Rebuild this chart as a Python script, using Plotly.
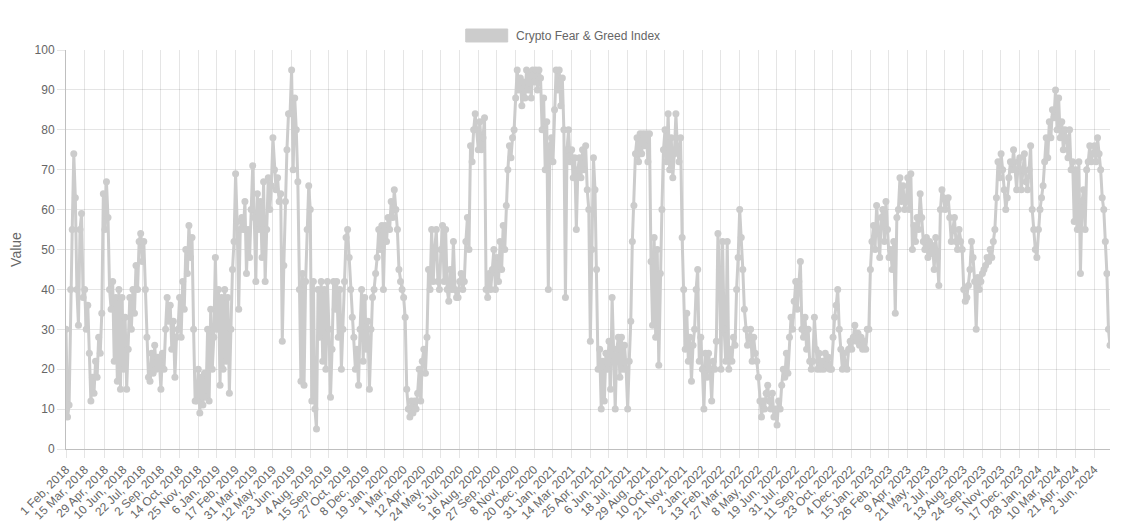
import pandas as pd
import plotly.graph_objects as go

# index readings every 3.5 days, one row per 6-week span between x labels
values = [
    30, 8, 11, 40, 55, 74, 63, 40, 31, 55, 59, 38,
    40, 30, 36, 24, 12, 18, 14, 22, 18, 28, 24, 34,
    64, 55, 67, 58, 40, 35, 42, 22, 38, 17, 40, 15,
    38, 20, 33, 15, 25, 38, 30, 40, 34, 46, 40, 52,
    54, 47, 52, 40, 28, 18, 17, 24, 19, 26, 20, 23,
    22, 15, 24, 20, 30, 38, 32, 36, 25, 32, 18, 28,
    30, 38, 28, 42, 35, 50, 44, 56, 48, 53, 30, 12,
    12, 20, 9, 18, 11, 19, 13, 30, 12, 35, 20, 28,
    48, 30, 40, 16, 38, 20, 40, 22, 38, 14, 30, 45,
    52, 69, 57, 35, 55, 58, 55, 62, 44, 55, 48, 60,
    71, 58, 42, 64, 55, 62, 48, 67, 42, 55, 68, 60,
    66, 78, 70, 65, 68, 62, 64, 27, 46, 62, 75, 84,
    84, 95, 70, 88, 80, 67, 40, 17, 44, 16, 42, 55,
    66, 60, 12, 42, 10, 5, 40, 28, 42, 22, 40, 20,
    42, 30, 13, 25, 42, 35, 42, 28, 40, 20, 30, 42,
    53, 55, 48, 40, 33, 28, 20, 25, 16, 30, 40, 22,
    38, 25, 32, 15, 30, 38, 40, 44, 48, 55, 50, 56,
    40, 56, 52, 58, 55, 62, 58, 65, 60, 55, 45, 42,
    40, 38, 33, 15, 10, 8, 12, 9, 12, 10, 14, 20,
    12, 22, 25, 19, 28, 45, 40, 55, 42, 50, 55, 42,
    40, 50, 56, 42, 55, 40, 37, 45, 40, 52, 40, 38,
    38, 42, 44, 40, 42, 52, 58, 50, 76, 72, 80, 84,
    80, 75, 82, 75, 78, 83, 40, 38, 44, 40, 45, 50,
    40, 48, 42, 52, 45, 56, 50, 61, 70, 76, 73, 78,
    80, 88, 95, 90, 93, 86, 92, 88, 95, 90, 94, 88,
    95, 92, 95, 90, 95, 93, 80, 88, 70, 82, 40, 76,
    78, 72, 85, 95, 90, 95, 86, 93, 80, 38, 75, 80,
    72, 75, 68, 73, 55, 70, 73, 68, 75, 70, 76, 65,
    60, 27, 50, 73, 65, 45, 20, 25, 10, 22, 12, 24,
    20, 27, 15, 38, 22, 10, 25, 28, 18, 28, 20, 26,
    20, 10, 22, 32, 52, 61, 74, 78, 72, 79, 74, 79,
    76, 79, 72, 79, 47, 31, 53, 28, 50, 21, 44, 60,
    75, 80, 72, 84, 70, 78, 68, 74, 84, 75, 72, 78,
    53, 40, 25, 34, 22, 28, 17, 26, 30, 40, 45, 22,
    28, 20, 10, 24, 18, 24, 20, 12, 22, 20, 27, 54,
    45, 20, 52, 30, 22, 52, 20, 25, 22, 28, 26, 40,
    48, 60, 53, 45, 35, 30, 26, 28, 30, 22, 28, 24,
    22, 18, 12, 8, 12, 10, 14, 16, 12, 10, 14, 8,
    10, 6, 12, 10, 16, 20, 18, 24, 19, 28, 33, 30,
    37, 42, 35, 42, 47, 30, 28, 33, 25, 30, 22, 20,
    22, 33, 25, 20, 24, 20, 22, 20, 24, 21, 23, 20,
    20, 28, 33, 36, 40, 30, 25, 20, 24, 21, 20, 25,
    27, 25, 28, 31, 27, 29, 26, 28, 25, 27, 25, 30,
    30, 45, 52, 56, 50, 61, 55, 48, 58, 60, 52, 62,
    55, 48, 50, 45, 52, 34, 58, 60, 68, 62, 66, 60,
    62, 68, 60, 69, 50, 56, 52, 58, 55, 64, 58, 52,
    50, 53, 48, 52, 49, 51, 45, 53, 48, 41, 60, 65,
    63, 60, 62, 63, 58, 52, 55, 58, 52, 50, 55, 52,
    50, 40, 37, 38, 41, 45, 52, 48, 42, 30, 43, 40,
    42, 44, 45, 46, 48, 47, 50, 48, 52, 55, 63, 72,
    68, 74, 70, 65, 60, 63, 68, 72, 70, 75, 70, 65,
    72, 73, 65, 70, 74, 67, 65, 70, 76, 60, 55, 50,
    48, 55, 60, 63, 66, 72, 78, 73, 82, 78, 85, 83,
    90, 80, 88, 78, 82, 75, 80, 78, 73, 80, 70, 72,
    57, 70, 55, 72, 44, 62, 65, 55, 70, 72, 76, 72,
    74, 76, 72, 78, 74, 70, 63, 60, 52, 44, 30, 26,
]
dates = pd.date_range("2018-02-01", periods=len(values), freq="84h")

tick_labels = [
    "1 Feb, 2018", "15 Mar, 2018", "29 Apr, 2018", "10 Jun, 2018", "22 Jul, 2018",
    "2 Sep, 2018", "14 Oct, 2018", "25 Nov, 2018", "6 Jan, 2019", "17 Feb, 2019",
    "31 Mar, 2019", "12 May, 2019", "23 Jun, 2019", "4 Aug, 2019", "15 Sep, 2019",
    "27 Oct, 2019", "8 Dec, 2019", "19 Jan, 2020", "1 Mar, 2020", "12 Apr, 2020",
    "24 May, 2020", "5 Jul, 2020", "16 Aug, 2020", "27 Sep, 2020", "8 Nov, 2020",
    "20 Dec, 2020", "31 Jan, 2021", "14 Mar, 2021", "25 Apr, 2021", "6 Jun, 2021",
    "18 Jul, 2021", "29 Aug, 2021", "10 Oct, 2021", "21 Nov, 2021", "2 Jan, 2022",
    "13 Feb, 2022", "27 Mar, 2022", "8 May, 2022", "19 Jun, 2022", "31 Jul, 2022",
    "11 Sep, 2022", "23 Oct, 2022", "4 Dec, 2022", "15 Jan, 2023", "26 Feb, 2023",
    "9 Apr, 2023", "21 May, 2023", "2 Jul, 2023", "13 Aug, 2023", "24 Sep, 2023",
    "5 Nov, 2023", "17 Dec, 2023", "28 Jan, 2024", "10 Mar, 2024", "21 Apr, 2024",
    "2 Jun, 2024",
]
tick_dates = [pd.to_datetime(t.replace(",", ""), format="%d %b %Y") for t in tick_labels]

GREY = "rgb(204,204,204)"
TXT = "#666666"
GRID = "rgba(0,0,0,0.1)"

fig = go.Figure(go.Scatter(
    x=dates, y=values, mode="lines+markers", name="Crypto Fear & Greed Index",
    line=dict(color=GREY, width=3),
    marker=dict(color=GREY, size=7),
    showlegend=False,
))

# chart.js style legend box above the plot
fig.add_shape(type="rect", xref="paper", yref="paper",
              x0=0.3829, x1=0.4231, y0=1.0201, y1=1.0526,
              fillcolor=GREY, line=dict(color=GREY, width=1))
fig.add_annotation(text="Crypto Fear & Greed Index", xref="paper", yref="paper",
                   x=0.4288, y=1.0363, xanchor="left", yanchor="middle",
                   showarrow=False, font=dict(size=12, color=TXT))

# the page body adds an 8px offset, so margins are trimmed on the left/top
fig.update_layout(
    width=1128, height=532,
    margin=dict(l=58, r=26, t=42, b=91),
    paper_bgcolor="white", plot_bgcolor="white",
    font=dict(family="Liberation Sans, Arial, sans-serif", size=12, color=TXT),
)
fig.update_xaxes(
    range=[dates[0], dates[-1]], automargin=False,
    tickmode="array", tickvals=tick_dates, ticktext=tick_labels, tickangle=-45,
    showgrid=True, gridcolor=GRID, ticks="outside", ticklen=8, tickcolor=GRID,
    showline=True, linecolor="rgba(0,0,0,0.25)", zeroline=False,
)
fig.update_yaxes(
    range=[0, 100], dtick=10, automargin=False,
    title=dict(text="Value", standoff=12),
    showgrid=True, gridcolor=GRID, ticks="outside", ticklen=8, tickcolor=GRID,
    showline=True, linecolor="rgba(0,0,0,0.25)", zeroline=False,
)

fig.write_html("out.html")
